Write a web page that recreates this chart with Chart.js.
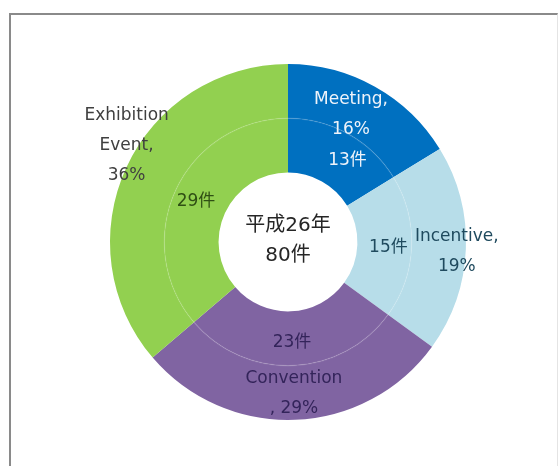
<!DOCTYPE html>
<html>
<head>
<meta charset="utf-8">
<script src="https://cdn.jsdelivr.net/npm/chart.js@4"></script>
<style>
    html, body { margin: 0; padding: 0; background: #fff; }
    #wrap { position: relative; width: 560px; height: 466px; overflow: hidden; }
    #frame {
        position: absolute; left: 9px; top: 13px; width: 546px; height: 480px;
        border-left: 2px solid #8a8a8a; border-top: 2px solid #8a8a8a;
        border-right: 1px solid #e4e4e4;
    }
    canvas { position: absolute; left: 0; top: 0; }
</style>
</head>
<body>
<div id="wrap">
    <div id="frame"></div>
    <canvas id="chart" width="560" height="466"></canvas>
</div>
<script>
// 平成26年 breakdown by type (件)
const CATEGORIES = ['Meeting', 'Incentive', 'Convention', 'Exhibition Event'];
const COUNTS = [13, 15, 23, 29];
const CENTER_TITLE = '平成26年';
const UNIT = '件';

const SLICE_COLORS = ['#0070c0', '#b7dde9', '#8064a2', '#92d050'];
const TEXT_COLORS = ['#eef3fa', '#1f4a5e', '#33245a', '#2f4f14'];
const OUTER_TEXT_COLORS = ['#eef3fa', '#1f4a5e', '#33245a', '#404040'];

// outer labels: line layout per slice, {p} = percentage
const OUTER_FORMATS = ['Meeting,\n{p}', 'Incentive,\n{p}', 'Convention\n, {p}', 'Exhibition\nEvent,\n{p}'];
// label placement: radius factor (of outer radius) and angle nudge in degrees
const OUTER_RADIUS = [0.80, 0.95, 0.85, 1.055];
const OUTER_NUDGE = [-3, 1, 0, 6];
const INNER_NUDGE = [7, 1, 0, -1];

const FONT = '"DejaVu Sans", "Noto Sans CJK JP", sans-serif';

const total = COUNTS.reduce((a, b) => a + b, 0);
const percents = COUNTS.map(v => Math.round(v / total * 100) + '%');

function drawLines(ctx, lines, x, y, lh) {
    const top = y - (lines.length - 1) * lh / 2;
    lines.forEach((ln, i) => ctx.fillText(ln, x, top + i * lh));
}

function arcPoint(arc, r, nudgeDeg) {
    const a = (arc.startAngle + arc.endAngle) / 2 + nudgeDeg * Math.PI / 180;
    return { x: arc.x + Math.cos(a) * r, y: arc.y + Math.sin(a) * r };
}

// faint ring separator plus all text
const ringLabels = {
    id: 'ringLabels',
    afterDatasetsDraw(chart) {
        const ctx = chart.ctx;
        const outer = chart.getDatasetMeta(0).data;
        const inner = chart.getDatasetMeta(1).data;
        ctx.save();

        ctx.strokeStyle = 'rgba(255,255,255,0.1)';
        ctx.lineWidth = 1.5;
        ctx.beginPath();
        ctx.arc(outer[0].x, outer[0].y, outer[0].innerRadius, 0, Math.PI * 2);
        ctx.stroke();

        ctx.textAlign = 'center';
        ctx.textBaseline = 'middle';
        ctx.font = '17px ' + FONT;

        inner.forEach((arc, i) => {
            const p = arcPoint(arc, (arc.innerRadius + arc.outerRadius) / 2 + 4, INNER_NUDGE[i]);
            ctx.fillStyle = TEXT_COLORS[i];
            ctx.fillText(COUNTS[i] + UNIT, p.x, p.y);
        });

        outer.forEach((arc, i) => {
            const p = arcPoint(arc, arc.outerRadius * OUTER_RADIUS[i], OUTER_NUDGE[i]);
            ctx.fillStyle = OUTER_TEXT_COLORS[i];
            drawLines(ctx, OUTER_FORMATS[i].replace('{p}', percents[i]).split('\n'), p.x, p.y, 30);
        });

        const c = outer[0];
        ctx.fillStyle = '#262626';
        ctx.font = '20px ' + FONT;
        drawLines(ctx, [CENTER_TITLE, total + UNIT], c.x, c.y - 1, 30);
        ctx.restore();
    }
};

new Chart(document.getElementById('chart'), {
    type: 'doughnut',
    data: {
        labels: CATEGORIES,
        datasets: [
            { data: COUNTS, backgroundColor: SLICE_COLORS, borderWidth: 0 },
            { data: COUNTS, backgroundColor: SLICE_COLORS, borderWidth: 0 }
        ]
    },
    options: {
        responsive: false,
        animation: false,
        cutout: '39%',
        layout: { padding: { left: 110, right: 94, top: 64, bottom: 46 } },
        plugins: {
            legend: { display: false },
            tooltip: { enabled: false }
        }
    },
    plugins: [ringLabels]
});
</script>
</body>
</html>
